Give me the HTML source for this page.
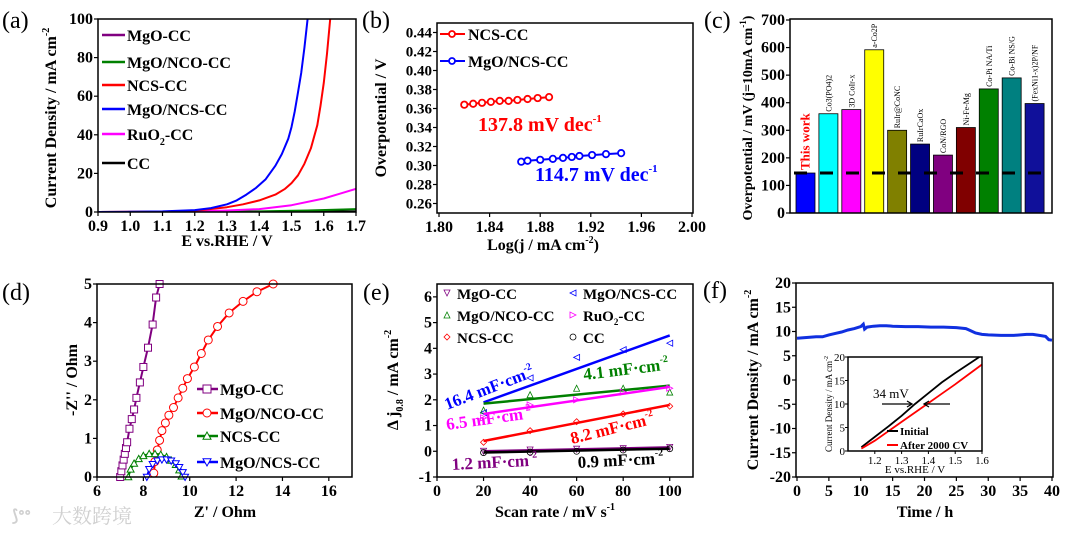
<!DOCTYPE html>
<html><head><meta charset="utf-8"><style>
html,body{margin:0;padding:0;background:#fff;}
svg{display:block;font-family:"Liberation Serif","Noto Serif CJK SC",serif;}
text{font-weight:bold;}
</style></head><body>
<svg id="fig" width="1080" height="535" viewBox="0 0 1080 535">
<rect x="0" y="0" width="1080" height="535" fill="#fff"/>
</svg>
<script>
// ---------- DATA ----------
// (a) LSV
const aE_blue=[0.9,1.0,1.1,1.2,1.25,1.3,1.33,1.36,1.39,1.42,1.45,1.47,1.49,1.5,1.51,1.52,1.53,1.54,1.55];
const aJ_blue=[0,0.1,0.3,1,2,4,6,9,12.5,17,24,30,38,44,52,62,72,85,100];
const aE_red=[0.9,1.1,1.2,1.3,1.35,1.4,1.45,1.48,1.5,1.52,1.54,1.56,1.58,1.59,1.6,1.61,1.62];
const aJ_red=[0,0.2,0.6,2.5,4,6,9,12,15,19,25,33,45,55,67,82,100];
const aE_pink=[0.9,1.1,1.2,1.3,1.4,1.5,1.6,1.65,1.7];
const aJ_pink=[0,0.1,0.3,0.8,1.5,3.5,7,9.5,12];
const aE_green=[0.9,1.2,1.4,1.55,1.7];
const aJ_green=[0,0.1,0.3,0.8,1.5];
const aE_black=[0.9,1.7];
const aJ_black=[0,0.3];
// (b) Tafel
const bX_red=[1.82,1.827,1.834,1.841,1.848,1.855,1.862,1.870,1.878,1.887];
const bY_red=[0.364,0.365,0.366,0.367,0.368,0.368,0.369,0.370,0.371,0.372];
const bX_blue=[1.865,1.87,1.88,1.89,1.898,1.905,1.911,1.921,1.932,1.944];
const bY_blue=[0.304,0.305,0.306,0.307,0.308,0.309,0.310,0.311,0.312,0.313];
// (c) bars
const cLabels=["This work","Co3(PO4)2","3D CoIr-x","a-Co2P","RuIr@CoNC","RuIrCaOx","CoN/RGO","Ni-Fe-Mg","Co-Pi NA/Ti","Co-Bi NS/G","(FexNi1-x)2P/NF"];
const cValues=[145,360,375,592,300,250,210,310,450,490,397];
const cColors=["#0000ff","#00ffff","#ff00ff","#ffff00","#808000","#000080","#800080","#800000","#008000","#008080","#10109a"];
const cRef=145;
// (d) Nyquist
const dX_mgo=[7.0,7.05,7.1,7.15,7.2,7.25,7.3,7.4,7.5,7.6,7.7,7.85,8.0,8.2,8.4,8.55,8.7];
const dY_mgo=[0,0.15,0.3,0.45,0.6,0.75,0.9,1.25,1.5,1.75,2.05,2.45,2.85,3.35,3.95,4.65,5];
const dX_nco=[8.45,8.5,8.6,8.7,8.8,8.95,9.1,9.3,9.5,9.7,9.9,10.2,10.5,10.8,11.2,11.7,12.3,12.9,13.6];
const dY_nco=[0.1,0.4,0.7,0.95,1.2,1.4,1.6,1.8,2.05,2.3,2.55,2.85,3.2,3.55,3.9,4.25,4.55,4.8,5];
const dX_ncs=[7.35,7.45,7.6,7.8,8.0,8.25,8.5,8.75,9.0,9.2,9.4,9.55,9.65];
const dY_ncs=[0,0.2,0.35,0.47,0.55,0.6,0.6,0.58,0.52,0.43,0.32,0.18,0.02];
const dX_mns=[8.15,8.25,8.4,8.6,8.8,9.0,9.2,9.4,9.55,9.7,9.8];
const dY_mns=[0,0.2,0.33,0.42,0.45,0.45,0.42,0.35,0.25,0.12,0];
// (e) Cdl
const eScan=[20,40,60,80,100];
const eBlue=[1.5,2.85,3.65,3.95,4.2];
const eGreen=[1.6,2.2,2.45,2.45,2.3];
const ePink=[1.3,1.8,2.0,2.3,2.45];
const eRed=[0.35,0.8,1.15,1.45,1.75];
const eBlack=[-0.05,-0.03,0.0,0.05,0.1];
const ePurple=[0.0,0.05,0.08,0.1,0.15];
const eFitBlue=[1.9,4.5];
const eFitGreen=[1.85,2.55];
const eFitPink=[1.45,2.5];
const eFitRed=[0.4,1.8];
const eFitBlack=[-0.05,0.1];
const eFitPurple=[0.0,0.15];
// (f) stability
const fT=[0,1,2,3,4,5,6,7,8,9,10,10.4,10.6,11,12,13,14,15,17,19,21,23,25,26.5,27,28,29,30,32,34,36,37,38,39,39.5,40];
const fJ=[8.6,8.7,8.8,8.9,8.9,9.3,9.6,9.9,10.3,10.6,11,11.5,10.5,10.9,11.1,11.2,11.2,11.1,11.0,11.0,10.9,10.9,10.8,10.6,10.3,9.7,9.4,9.3,9.2,9.2,9.4,9.4,9.2,9.0,8.3,8.2];
const fInE_init=[1.15,1.2,1.25,1.3,1.35,1.4,1.45,1.5,1.55,1.59];
const fInJ_init=[0.8,3,5.2,7.5,10,12.3,14.6,16.6,18.5,20];
const fInE_after=[1.15,1.2,1.25,1.3,1.35,1.4,1.45,1.5,1.55,1.6];
const fInJ_after=[0.5,2.2,4.2,6.2,8.2,10.2,12.2,14.2,16.3,18.4];

// ---------- HELPERS ----------
const NS='http://www.w3.org/2000/svg';
const svg=document.getElementById('fig');
function mk(tag,attrs,parent){const e=document.createElementNS(NS,tag);for(const k in attrs)e.setAttribute(k,attrs[k]);(parent||svg).appendChild(e);return e;}
function txt(s,x,y,size,attrs,parent){const t=mk('text',Object.assign({x:x,y:y,'font-size':size},attrs||{}),parent);t.textContent=s;return t;}
function sup(t,s,size,dy){const sp=mk('tspan',{'font-size':size,dy:dy},t);sp.textContent=s;return sp;}
function lin(d0,d1,r0,r1){return v=>r0+(v-d0)*(r1-r0)/(d1-d0);}
function pathD(xs,ys,X,Y){return xs.map((v,i)=>(i?'L':'M')+X(v).toFixed(1)+','+Y(ys[i]).toFixed(1)).join('');}
function frame(g,box){const r=mk('rect',{x:box.x0,y:box.y0,width:box.x1-box.x0,height:box.y1-box.y0,fill:'none',stroke:'#000','stroke-width':1.5},g);

}
function xTicks(g,box,X,vals,fmt,size){vals.forEach(v=>{const x=X(v);mk('line',{x1:x,y1:box.y1,x2:x,y2:box.y1+4,stroke:'#000','stroke-width':1.2},g);
const t=txt(fmt(v),x,box.y1+19,size||16,{'text-anchor':'middle'},g);

});}
function yTicks(g,box,Y,vals,fmt,size){vals.forEach(v=>{const y=Y(v);mk('line',{x1:box.x0-4,y1:y,x2:box.x0,y2:y,stroke:'#000','stroke-width':1.2},g);
const t=txt(fmt(v),box.x0-5,y+5,size||16,{'text-anchor':'end'},g);

});}
function panelLabel(s,x,y){const t=txt(s,x,y,24,{'font-weight':'normal'});t.style.fontWeight='normal';

}

// ---------- PANEL A ----------
(function(){
const g=mk('g',{});


const box={x0:98,x1:356,y0:19,y1:212};
const X=lin(0.9,1.7,box.x0,box.x1),Y=lin(0,100,box.y1,box.y0);
const cl=mk('clipPath',{id:'clipA'},g);mk('rect',{x:box.x0,y:box.y0,width:box.x1-box.x0,height:box.y1-box.y0},cl);
const series=[[aE_black,aJ_black,'#000','curve-cc'],[aE_green,aJ_green,'#008000','curve-mgo-nco-cc'],[aE_pink,aJ_pink,'#ff00ff','curve-ruo2-cc'],[aE_red,aJ_red,'#ff0000','curve-ncs-cc'],[aE_blue,aJ_blue,'#0000ff','curve-mgo-ncs-cc']];
series.forEach(s=>{const p=mk('path',{d:pathD(s[0],s[1],X,Y),fill:'none',stroke:s[2],'stroke-width':2,'stroke-linejoin':'round','clip-path':'url(#clipA)'},g);

});
frame(g,box);
xTicks(g,box,X,[0.9,1.0,1.1,1.2,1.3,1.4,1.5,1.6,1.7],v=>v.toFixed(1));
yTicks(g,box,Y,[0,20,40,60,80,100],v=>String(v));
const leg=[['MgO-CC','#800080',35],['MgO/NCO-CC','#008000',62],['NCS-CC','#ff0000',85],['MgO/NCS-CC','#0000ff',109],['RuO','#ff00ff',134],['CC','#000',163]];
leg.forEach((l,i)=>{mk('line',{x1:102,y1:l[2],x2:125,y2:l[2],stroke:l[1],'stroke-width':2.5},g);
const t=txt(l[0],127,l[2]+6,16,{},g);


if(i===4){sup(t,'2',10,5);const r=mk('tspan',{dy:-5},t);r.textContent='-CC';}});
const yt=txt('Current Density / mA cm',0,0,16,{transform:'translate(56,118) rotate(-90)','text-anchor':'middle'},g);
sup(yt,'-2',10,-7);


const xt=txt('E vs.RHE / V',227,246,16,{'text-anchor':'middle'},g);


})();
panelLabel('(a)',2,28);

// ---------- PANEL B ----------
(function(){
const g=mk('g',{});


const box={x0:437,x1:693,y0:23,y1:213};
const X=lin(1.8,2.0,box.x0+2,box.x1-1),Y=lin(0.25,0.45,box.y1,box.y0);
[[bX_red,bY_red,'#ff0000','tafel-ncs-cc'],[bX_blue,bY_blue,'#0000ff','tafel-mgo-ncs-cc']].forEach(s=>{
const p=mk('path',{d:pathD(s[0],s[1],X,Y),fill:'none',stroke:s[2],'stroke-width':2},g);


s[0].forEach((v,i)=>{const c=mk('circle',{cx:X(v),cy:Y(s[1][i]),r:3.2,fill:'#fff',stroke:s[2],'stroke-width':1.8},g);

});});
frame(g,box);
xTicks(g,box,X,[1.80,1.84,1.88,1.92,1.96,2.00],v=>v.toFixed(2));
yTicks(g,box,Y,[0.26,0.28,0.30,0.32,0.34,0.36,0.38,0.40,0.42,0.44],v=>v.toFixed(2),15);
[['NCS-CC','#ff0000',34],['MgO/NCS-CC','#0000ff',61]].forEach(l=>{mk('line',{x1:440,y1:l[2],x2:465,y2:l[2],stroke:l[1],'stroke-width':2},g);
mk('circle',{cx:452,cy:l[2],r:3,fill:'#fff',stroke:l[1],'stroke-width':1.8},g);
const t=txt(l[0],468,l[2]+6,16,{},g);

});
const a1=txt('137.8 mV dec',478,131,20,{fill:'#ff0000'},g);sup(a1,'-1',11,-9);


const a2=txt('114.7 mV dec',535,181,20,{fill:'#0000ff'},g);sup(a2,'-1',11,-9);


const yt=txt('Overpotential / V',0,0,16,{transform:'translate(386,118) rotate(-90)','text-anchor':'middle'},g);


const xt=txt('Log(j / mA cm',543,250,16,{'text-anchor':'middle'},g);sup(xt,'-2',10,-7);const cl=mk('tspan',{dy:7},xt);cl.textContent=')';


})();
panelLabel('(b)',362,28);

// ---------- PANEL C ----------
(function(){
const g=mk('g',{});


const box={x0:790,x1:1052,y0:19,y1:213};
const Y=lin(0,700,box.y1,box.y0+1);
const step=(box.x1-box.x0-10)/cValues.length, bw=19;
const X=i=>box.x0+6+i*step;
cValues.forEach((v,i)=>{const r=mk('rect',{x:X(i),y:Y(v),width:bw,height:box.y1-Y(v),fill:cColors[i],stroke:'#000','stroke-width':0.8},g);


const red=i===0;
const t=txt(cLabels[i],0,0,red?13:8,{transform:'translate('+(X(i)+bw/2+(red?4:3))+','+(Y(v)-(red?3:2))+') rotate(-90)',fill:red?'#ff0000':'#000'},g);
if(!red)t.style.fontWeight='normal';

});
const dl=mk('line',{x1:box.x0+4,y1:Y(cRef),x2:box.x1-6,y2:Y(cRef),stroke:'#000','stroke-width':3,'stroke-dasharray':'13,13'},g);


frame(g,box);
yTicks(g,box,Y,[0,100,200,300,400,500,600,700],v=>String(v));
const yt=txt('Overpotential / mV (j=10mA cm',0,0,14,{transform:'translate(752,118) rotate(-90)','text-anchor':'middle'},g);
sup(yt,'-1',9,-6);const cl=mk('tspan',{dy:6},yt);cl.textContent=')';


})();
panelLabel('(c)',704,28);

// ---------- PANEL D ----------
(function(){
const g=mk('g',{});


const box={x0:97,x1:352,y0:284,y1:477};
const X=lin(6,17,box.x0,box.x1),Y=lin(0,5,box.y1,box.y0);
const series=[[dX_mgo,dY_mgo,'#800080','sq','nyquist-mgo-cc'],[dX_nco,dY_nco,'#ff0000','ci','nyquist-mgo-nco-cc'],[dX_ncs,dY_ncs,'#008000','tri','nyquist-ncs-cc'],[dX_mns,dY_mns,'#0000ff','dtri','nyquist-mgo-ncs-cc']];
function marker(type,x,y,col,s){if(type==='sq')return mk('rect',{x:x-s,y:y-s,width:2*s,height:2*s,fill:'#fff',stroke:col,'stroke-width':1},g);
if(type==='ci')return mk('circle',{cx:x,cy:y,r:s,fill:'#fff',stroke:col,'stroke-width':1},g);
if(type==='tri')return mk('polygon',{points:(x)+','+(y-s)+' '+(x-s)+','+(y+s*0.8)+' '+(x+s)+','+(y+s*0.8),fill:'#fff',stroke:col,'stroke-width':1},g);
return mk('polygon',{points:(x)+','+(y+s)+' '+(x-s)+','+(y-s*0.8)+' '+(x+s)+','+(y-s*0.8),fill:'#fff',stroke:col,'stroke-width':1},g);}
series.forEach(s=>{const p=mk('path',{d:pathD(s[0],s[1],X,Y),fill:'none',stroke:s[2],'stroke-width':2},g);


s[0].forEach((v,i)=>{const m=marker(s[3],X(v),Y(s[1][i]),s[2],s[3]==='ci'?4:3.5);

});});
frame(g,box);
xTicks(g,box,X,[6,8,10,12,14,16],v=>String(v));
yTicks(g,box,Y,[0,1,2,3,4,5],v=>String(v));
[['MgO-CC','#800080',389,'sq'],['MgO/NCO-CC','#ff0000',413,'ci'],['NCS-CC','#008000',436,'tri'],['MgO/NCS-CC','#0000ff',462,'dtri']].forEach(l=>{
mk('line',{x1:197,y1:l[2],x2:218,y2:l[2],stroke:l[1],'stroke-width':2.5},g);marker(l[3],207,l[2],l[1],4);
const t=txt(l[0],220,l[2]+6,16,{},g);

});
const yt=txt("-Z'' / Ohm",0,0,16,{transform:'translate(77,380) rotate(-90)','text-anchor':'middle'},g);


const xt=txt("Z' / Ohm",225,517,16,{'text-anchor':'middle'},g);


const wm=txt('大数跨境',52,523,20,{fill:'#d0d0d0'},g);wm.style.fontWeight='normal';


const wi=txt('⟆ᐤᐤ',12,521,16,{fill:'#d0d0d0'},g);


})();
panelLabel('(d)',2,300);

// ---------- PANEL E ----------
(function(){
const g=mk('g',{});


const box={x0:437,x1:693,y0:284,y1:477};
const X=lin(0,110,box.x0,box.x1),Y=lin(-1,6.5,box.y1,box.y0);
const sets=[[eBlue,eFitBlue,'#0000ff','ltri','mgo-ncs-cc'],[eGreen,eFitGreen,'#008000','tri','mgo-nco-cc'],[ePink,eFitPink,'#ff00ff','rtri','ruo2-cc'],[eRed,eFitRed,'#ff0000','dia','ncs-cc'],[ePurple,eFitPurple,'#800080','dtri','mgo-cc'],[eBlack,eFitBlack,'#000','ci','cc']];
function mark(type,x,y,col){const s=3;let pts;
if(type==='ci')return mk('circle',{cx:x,cy:y,r:3,fill:'none',stroke:col,'stroke-width':0.8},g);
if(type==='tri')pts=[[x,y-s],[x-s,y+s],[x+s,y+s]];
else if(type==='dtri')pts=[[x,y+s],[x-s,y-s],[x+s,y-s]];
else if(type==='ltri')pts=[[x-s,y],[x+s,y-s],[x+s,y+s]];
else if(type==='rtri')pts=[[x+s,y],[x-s,y-s],[x-s,y+s]];
else pts=[[x,y-s],[x+s,y],[x,y+s],[x-s,y]];
return mk('polygon',{points:pts.map(p=>p.join(',')).join(' '),fill:'none',stroke:col,'stroke-width':0.8},g);}
sets.forEach(s=>{const l=mk('line',{x1:X(eScan[0]),y1:Y(s[1][0]),x2:X(eScan[eScan.length-1]),y2:Y(s[1][1]),stroke:s[2],'stroke-width':2.5},g);


s[0].forEach((v,i)=>{const m=mark(s[3],X(eScan[i]),Y(v),s[2]);

});});
frame(g,box);
xTicks(g,box,X,[0,20,40,60,80,100],v=>String(v));
yTicks(g,box,Y,[-1,0,1,2,3,4,5,6],v=>String(v));
[['MgO-CC','#800080',293,447,'dtri'],['MgO/NCO-CC','#008000',315,447,'tri'],['NCS-CC','#ff0000',337,447,'dia'],['MgO/NCS-CC','#0000ff',293,573,'ltri'],['RuO','#ff00ff',315,573,'rtri'],['CC','#000',337,573,'ci']].forEach(l=>{
mark(l[4],l[3],l[2],l[1]);
const t=txt(l[0],l[3]+10,l[2]+6,15,{},g);
if(l[0]==='RuO'){sup(t,'2',9,4);const r=mk('tspan',{dy:-4},t);r.textContent='-CC';}

});
const ann=[['16.4 mF·cm','#0000ff',447,410,-21],['4.1 mF·cm','#008000',584,380,-7],['6.5 mF·cm','#ff00ff',447,430,-8],['8.2 mF·cm','#ff0000',572,444,-14],['1.2 mF·cm','#800080',452,470,-3],['0.9 mF·cm','#000',578,468,-3]];
ann.forEach(a=>{const t=txt(a[0],0,0,17,{fill:a[1],transform:'translate('+a[2]+','+a[3]+') rotate('+a[4]+')'},g);sup(t,'-2',10,-8);

});
const yt=txt('Δ j',0,0,16,{transform:'translate(398,380) rotate(-90)','text-anchor':'middle'},g);
sup(yt,'0.8',10,5);const r2=mk('tspan',{dy:-5},yt);r2.textContent=' / mA cm';sup(yt,'-2',10,-7);


const xt=txt('Scan rate / mV s',555,517,16,{'text-anchor':'middle'},g);sup(xt,'-1',10,-7);


})();
panelLabel('(e)',363,300);

// ---------- PANEL F ----------
(function(){
const g=mk('g',{});


const box={x0:796,x1:1053,y0:283,y1:477};
const X=lin(0,40,box.x0+1,box.x1-1),Y=lin(-20,20,box.y1,box.y0);
const p=mk('path',{d:pathD(fT,fJ,X,Y),fill:'none',stroke:'#1030e0','stroke-width':3},g);


frame(g,box);
xTicks(g,box,X,[0,5,10,15,20,25,30,35,40],v=>String(v));
yTicks(g,box,Y,[-20,-15,-10,-5,0,5,10,15,20],v=>String(v));
const yt=txt('Current Density / mA cm',0,0,16,{transform:'translate(758,380) rotate(-90)','text-anchor':'middle'},g);sup(yt,'-2',10,-7);


const xt=txt('Time / h',925,517,16,{'text-anchor':'middle'},g);


// inset
const ig=mk('g',{},g);


const ib={x0:848,x1:982,y0:357,y1:451};
mk('rect',{x:ib.x0,y:ib.y0,width:ib.x1-ib.x0,height:ib.y1-ib.y0,fill:'#fff'},ig);
const IX=lin(1.1,1.6,ib.x0,ib.x1),IY=lin(0,20,ib.y1,ib.y0);
const l1=mk('path',{d:pathD(fInE_init,fInJ_init,IX,IY),fill:'none',stroke:'#000','stroke-width':1.8},ig);


const l2=mk('path',{d:pathD(fInE_after,fInJ_after,IX,IY),fill:'none',stroke:'#ff0000','stroke-width':1.8},ig);


frame(ig,ib);
[1.2,1.3,1.4,1.5,1.6].forEach(v=>{mk('line',{x1:IX(v),y1:ib.y1,x2:IX(v),y2:ib.y1+3,stroke:'#000'},ig);
const t=txt(v.toFixed(1),IX(v),ib.y1+13,11,{'text-anchor':'middle'},ig);t.style.fontWeight='normal';

});
[0,5,10,15,20].forEach(v=>{mk('line',{x1:ib.x0-3,y1:IY(v),x2:ib.x0,y2:IY(v),stroke:'#000'},ig);
const t=txt(String(v),ib.x0-3,IY(v)+4,11,{'text-anchor':'end'},ig);t.style.fontWeight='normal';

});
const ar=mk('path',{d:'M882,404 L911,404 M907,401 L912,404 L907,407 M950,404 L925,404 M929,401 L924,404 L929,407',stroke:'#000','stroke-width':1.3,fill:'none'},ig);


const m=txt('34 mV',873,398,13,{},ig);m.style.fontWeight='normal';


mk('line',{x1:887,y1:431,x2:898,y2:431,stroke:'#000','stroke-width':2},ig);
const t1=txt('Initial',900,435,11,{},ig);


mk('line',{x1:887,y1:445,x2:898,y2:445,stroke:'#ff0000','stroke-width':2},ig);
const t2=txt('After 2000 CV',900,449,11,{},ig);


const iy=txt('Current Density / mA cm',0,0,9,{transform:'translate(832,404) rotate(-90)','text-anchor':'middle'},ig);iy.style.fontWeight='normal';sup(iy,'-2',6,-4);


const ix=txt('E vs.RHE / V',915,473,11,{'text-anchor':'middle'},ig);ix.style.fontWeight='normal';


})();
panelLabel('(f)',703,298);
</script>
</body></html>
